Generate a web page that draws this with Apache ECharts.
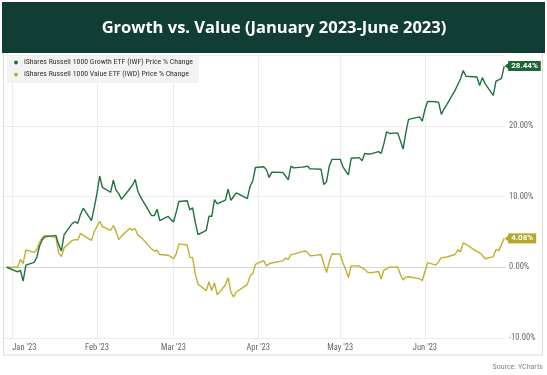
<!DOCTYPE html>
<html>
<head>
<meta charset="utf-8">
<script src="https://cdn.jsdelivr.net/npm/echarts@6/dist/echarts.min.js"></script>
<style>
  html, body { margin: 0; padding: 0; background: #fff; }
  #chart { width: 547px; height: 375px; }
</style>
</head>
<body>
<div id="chart"></div>
<script>
// trading days, Dec 30 2022 base
const dates = [
  '2022-12-30',
  '2023-01-03', '2023-01-04', '2023-01-05', '2023-01-06', '2023-01-09', '2023-01-10', '2023-01-11', '2023-01-12', '2023-01-13',
  '2023-01-17', '2023-01-18', '2023-01-19', '2023-01-20', '2023-01-23', '2023-01-24', '2023-01-25', '2023-01-26', '2023-01-27',
  '2023-01-30', '2023-01-31',
  '2023-02-01', '2023-02-02', '2023-02-03', '2023-02-06', '2023-02-07', '2023-02-08', '2023-02-09', '2023-02-10', '2023-02-13',
  '2023-02-14', '2023-02-15', '2023-02-16', '2023-02-17', '2023-02-21', '2023-02-22', '2023-02-23', '2023-02-24', '2023-02-27',
  '2023-02-28',
  '2023-03-01', '2023-03-02', '2023-03-03', '2023-03-06', '2023-03-07', '2023-03-08', '2023-03-09', '2023-03-10', '2023-03-13',
  '2023-03-14', '2023-03-15', '2023-03-16', '2023-03-17', '2023-03-20', '2023-03-21', '2023-03-22', '2023-03-23', '2023-03-24',
  '2023-03-27', '2023-03-28', '2023-03-29', '2023-03-30', '2023-03-31',
  '2023-04-03', '2023-04-04', '2023-04-05', '2023-04-06', '2023-04-10', '2023-04-11', '2023-04-12', '2023-04-13', '2023-04-14',
  '2023-04-17', '2023-04-18', '2023-04-19', '2023-04-20', '2023-04-21', '2023-04-24', '2023-04-25', '2023-04-26', '2023-04-27',
  '2023-04-28',
  '2023-05-01', '2023-05-02', '2023-05-03', '2023-05-04', '2023-05-05', '2023-05-08', '2023-05-09', '2023-05-10', '2023-05-11',
  '2023-05-12', '2023-05-15', '2023-05-16', '2023-05-17', '2023-05-18', '2023-05-19', '2023-05-22', '2023-05-23', '2023-05-24',
  '2023-05-25', '2023-05-26', '2023-05-30', '2023-05-31',
  '2023-06-01', '2023-06-02', '2023-06-05', '2023-06-06', '2023-06-07', '2023-06-08', '2023-06-09', '2023-06-12', '2023-06-13',
  '2023-06-14', '2023-06-15', '2023-06-16', '2023-06-20', '2023-06-21', '2023-06-22', '2023-06-23', '2023-06-26', '2023-06-27',
  '2023-06-28', '2023-06-29', '2023-06-30'
];

// IWF price % change
const growth = [
  0,
  -0.66, -0.45, -1.95, 0.3, 0.7, 1.4, 3.0, 3.9, 4.3,
  4.5, 3.2, 2.3, 4.6, 6.2, 6.4, 6.2, 7.5, 8.35,
  6.6, 8.4,
  10.4, 12.9, 11.3, 10.6, 12.3, 10.9, 10.4, 9.6, 11.1,
  11.6, 12.4, 10.7, 9.9, 7.3, 7.3, 8.2, 6.6, 7.2,
  6.8,
  6.4, 7.8, 9.3, 9.4, 8.1, 8.4, 6.3, 4.6, 5.2,
  7.2, 7.2, 9.55, 8.95, 9.5, 11.05, 9.45, 10.0, 10.5,
  9.9, 9.7, 11.4, 12.2, 14.1,
  14.2, 13.8, 12.7, 13.45, 13.4, 12.9, 12.35, 14.3, 14.05,
  14.15, 14.2, 14.3, 13.9, 13.9, 13.85, 11.7, 12.1, 14.3,
  15.25,
  15.25, 14.2, 13.6, 13.05, 15.4, 15.5, 15.05, 16.1, 16.0,
  16.0, 16.35, 16.1, 17.5, 19.15, 18.9, 19.0, 17.9, 16.7,
  19.0, 20.9, 21.25, 20.65,
  22.3, 23.45, 23.4, 23.3, 21.6, 22.4, 23.0, 25.0, 25.8,
  26.6, 27.8, 27.0, 26.9, 25.7, 26.8, 25.95, 24.3, 26.3,
  26.5, 26.7, 28.44
];

// IWD price % change
const value = [
  0,
  0.0, 1.1, 0.5, 2.45, 2.1, 2.5, 3.5, 4.2, 4.5,
  4.2, 2.0, 1.5, 2.75, 3.8, 3.9, 3.85, 4.8, 4.5,
  3.8, 5.0,
  5.8, 6.5, 5.75, 5.2, 5.9, 5.1, 3.9, 4.4, 5.5,
  5.25, 5.45, 4.5, 4.3, 2.6, 2.3, 2.4, 1.8, 1.7,
  1.5,
  1.2, 1.9, 3.3, 3.15, 1.4, 1.35, -1.0, -2.4, -3.3,
  -2.05, -3.3, -2.2, -3.9, -2.5, -1.45, -3.5, -4.2, -3.5,
  -2.7, -2.45, -1.25, -0.9, 0.4,
  0.95, 0.2, 0.5, 0.6, 0.9, 1.3, 1.1, 1.8, 1.85,
  2.2, 2.3, 2.1, 1.6, 1.65, 1.8, 0.5, -0.75, 0.8,
  1.9,
  1.85, 0.6, -0.3, -1.45, 0.2, 0.2, -0.1, -0.3, -0.7,
  -0.8, -0.6, -1.65, -0.4, -0.2, 0.0, 0.05, -1.0, -1.8,
  -1.4, -1.35, -1.6, -1.9,
  -0.6, 0.65, 0.3, 0.8, 1.35, 1.4, 1.45, 1.8, 2.45,
  2.2, 3.45, 3.25, 2.2, 2.05, 1.7, 1.2, 1.5, 2.5,
  2.35, 3.2, 4.08
];

const monthTicks = ['2023-01-01', '2023-02-01', '2023-03-01', '2023-04-01', '2023-05-01', '2023-06-01'];
const monthLabels = ["Jan '23", "Feb '23", "Mar '23", "Apr '23", "May '23", "Jun '23"];
const yTicks = [-10, 0, 10, 20, 30];

const GREEN = '#21703f';
const GREEN_TAG = '#1b6634';
const GOLD = '#c1b02e';
const GOLD_TAG = '#b4a62f';
const FONT = 'Roboto, "Noto Sans", sans-serif';
const NARROW = '"Liberation Sans Narrow", "Roboto Condensed", Roboto, sans-serif';

const t = (d) => echarts.time.parse(d).getTime();
const tickTimes = monthTicks.map(t);
const pair = (arr) => dates.map((d, i) => [t(d), arr[i]]);
const lastT = t(dates[dates.length - 1]);

function tag(color) {
  return {
    show: true,
    formatter: (p) => p.value[1].toFixed(2) + '%',
    backgroundColor: color,
    color: '#fff',
    fontFamily: FONT,
    fontWeight: 'bold',
    fontSize: 8,
    lineHeight: 10,
    padding: [0, 3, 0, 3],
    distance: 4,
  };
}

function arrow(color, v) {
  return {
    silent: true,
    symbol: 'triangle',
    symbolRotate: 90,
    symbolSize: [8, 5],
    symbolOffset: [3, 0],
    itemStyle: { color },
    label: { show: false },
    data: [{ coord: [lastT, v] }],
  };
}

const chart = echarts.init(document.getElementById('chart'), null, { renderer: 'canvas' });

chart.setOption({
  animation: false,
  backgroundColor: '#fff',
  textStyle: { fontFamily: FONT },
  graphic: [
    {
      type: 'rect', z: -10,
      shape: { x: 3.5, y: 52, width: 539, height: 303 },
      style: { fill: '#fff', stroke: '#dcdcdc', lineWidth: 1 },
    },
    {
      type: 'rect', z: 100,
      shape: { x: 2, y: 2, width: 543, height: 51 },
      style: { fill: '#103e34' },
    },
    {
      type: 'text', z: 101,
      x: 274, y: 28,
      style: {
        text: 'Growth vs. Value (January 2023-June 2023)',
        fill: '#fff',
        font: 'bold 16.5px "Open Sans", Lato, sans-serif',
        align: 'center',
        verticalAlign: 'middle',
      },
    },
    {
      type: 'text',
      right: 4, top: 363,
      style: {
        text: 'Source: YCharts',
        fill: '#888',
        font: '8px ' + NARROW,
      },
    },
  ],
  legend: {
    orient: 'vertical',
    left: 7,
    top: 55,
    z: 50,
    backgroundColor: '#f3f3f3',
    padding: [3, 6, 4, 7],
    itemGap: 3,
    itemWidth: 6,
    itemHeight: 4,
    icon: 'circle',
    textStyle: { fontSize: 7.8, color: '#333', fontFamily: NARROW, lineHeight: 9 },
    data: ['iShares Russell 1000 Growth ETF (IWF) Price % Change', 'iShares Russell 1000 Value ETF (IWD) Price % Change'],
  },
  grid: { left: 4, right: 42, top: 55, bottom: 37 },
  xAxis: {
    type: 'value',
    min: t('2022-12-29'),
    max: t('2023-06-30 07:00:00'),
    axisLine: { show: true, lineStyle: { color: '#d6d6d6' } },
    axisTick: { show: false, customValues: tickTimes },
    splitLine: { show: true, lineStyle: { color: '#ececec', width: 1 } },
    axisLabel: {
      customValues: tickTimes,
      formatter: (v) => monthLabels[tickTimes.indexOf(v)] || '',
      alignMinLabel: 'left',
      color: '#666',
      fontFamily: NARROW,
      fontSize: 8.5,
      margin: 5,
      hideOverlap: false,
    },
  },
  yAxis: {
    type: 'value',
    position: 'right',
    min: yTicks[0],
    max: yTicks[yTicks.length - 1],
    interval: 10,
    axisLine: { show: false },
    axisTick: { show: false },
    splitLine: { lineStyle: { color: '#ececec', width: 1 } },
    axisLabel: {
      formatter: (v) => (v === 30 ? '' : v.toFixed(2) + '%'),
      color: '#666',
      fontFamily: NARROW,
      fontSize: 8.5,
      margin: 4,
      padding: [0, 0, 6, 0],
    },
  },
  series: [
    {
      name: 'iShares Russell 1000 Growth ETF (IWF) Price % Change',
      type: 'line',
      data: pair(growth),
      showSymbol: false,
      color: GREEN,
      lineStyle: { width: 1.4, color: GREEN },
      endLabel: tag(GREEN_TAG),
      markPoint: arrow(GREEN_TAG, growth[growth.length - 1]),
      z: 3,
    },
    {
      name: 'iShares Russell 1000 Value ETF (IWD) Price % Change',
      type: 'line',
      data: pair(value),
      showSymbol: false,
      color: GOLD,
      lineStyle: { width: 1.4, color: GOLD },
      endLabel: tag(GOLD_TAG),
      markPoint: arrow(GOLD_TAG, value[value.length - 1]),
      z: 2,
    },
  ],
});
</script>
</body>
</html>
